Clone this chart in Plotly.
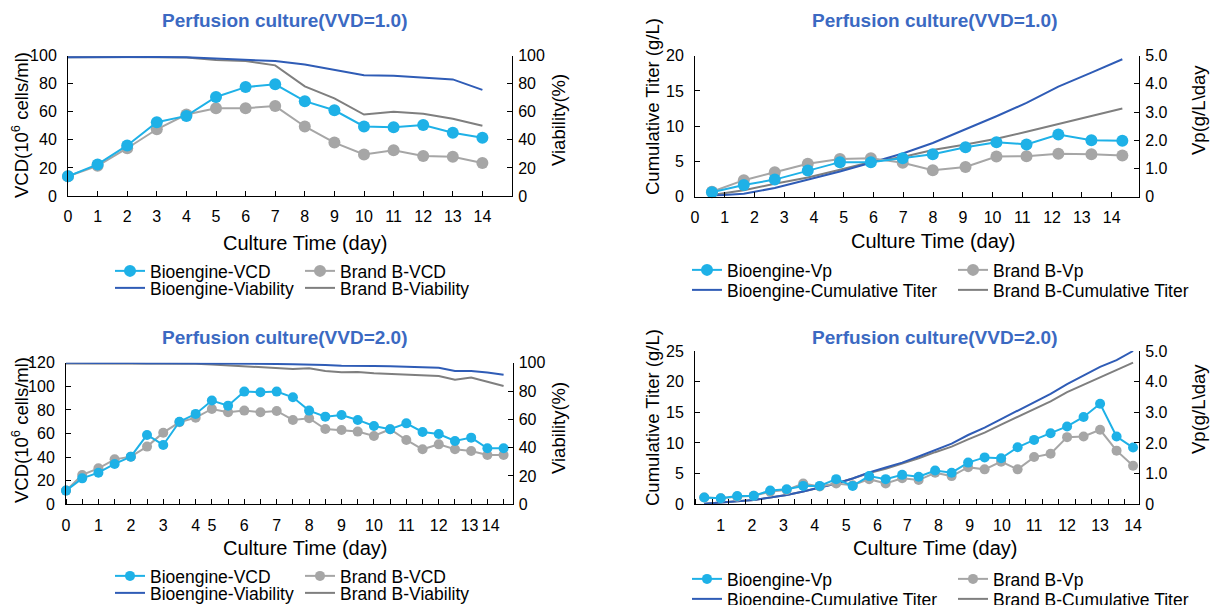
import plotly.graph_objects as go

# ---------------- data ----------------
# Panel 1: Perfusion culture (VVD=1.0) - VCD / viability
days_1 = [0, 1, 2, 3, 4, 5, 6, 7, 8, 9, 10, 11, 12, 13, 14]
bio_vcd_1 = [14, 22.5, 36, 52.5, 57, 70.5, 77.5, 79.5, 67.5, 61, 49.5, 49, 50.5, 45, 41.5]
brb_vcd_1 = [14, 21.5, 34, 47.5, 58, 62.5, 62.5, 64, 49.5, 38, 29.5, 32.5, 28.5, 28, 23.5]
bio_via_1 = [98.8, 99, 99.2, 99, 98.8, 97.9, 97.2, 96, 93.6, 90, 86, 85.5, 84, 83, 75.5]
brb_via_1 = [98.8, 99, 99, 98.8, 98.5, 96.8, 96, 93, 78, 69.5, 58, 60, 58.5, 55, 50]
day_labels_1 = ["0", "1", "2", "3", "4", "5", "6", "7", "8", "9", "10", "11", "12", "13", "14"]

# Panel 2: Perfusion culture (VVD=1.0) - Vp / cumulative titer
days_2 = [0.57, 1.64, 2.68, 3.79, 4.87, 5.91, 6.98, 7.99, 9.09, 10.13, 11.14, 12.21, 13.32, 14.36]
bio_vp_1 = [0.15, 0.41, 0.6, 0.92, 1.22, 1.22, 1.36, 1.5, 1.75, 1.93, 1.85, 2.2, 2.0, 1.98]
brb_vp_1 = [0.17, 0.58, 0.86, 1.16, 1.33, 1.36, 1.2, 0.93, 1.05, 1.42, 1.43, 1.52, 1.5, 1.46]
bio_cum_1 = [0.1, 0.4, 1.2, 2.4, 3.55, 4.8, 6.1, 7.6, 9.5, 11.4, 13.3, 15.6, 17.6, 19.5]
brb_cum_1 = [0.2, 0.9, 1.8, 2.7, 3.8, 4.9, 5.6, 6.6, 7.4, 8.2, 9.2, 10.3, 11.4, 12.5]
day_ticks_2 = [0, 1, 2, 3, 4, 5, 6, 7, 8, 9, 10, 11, 12, 13, 14]

# Panel 3: Perfusion culture (VVD=2.0) - VCD / viability (sample index on category axis)
samples_3 = [0, 1, 2, 3, 4, 5, 6, 7, 8, 9, 10, 11, 12, 13, 14, 15, 16, 17, 18, 19, 20, 21, 22, 23, 24, 25, 26, 27]
day_tick_pos_3 = [0, 2, 4, 6, 8, 9, 11, 13, 15, 17, 19, 21, 23, 24.9, 26.2]
day_labels_3 = ["0", "1", "2", "3", "4", "5", "6", "7", "8", "9", "10", "11", "12", "13", "14"]
bio_vcd_2 = [11.6, 22, 26.8, 34.2, 40.4, 58.8, 50.3, 70, 76.6, 87.9, 83.6, 95.5, 94.9, 95.5,
             90.7, 79.4, 74.3, 75.7, 71.5, 66.4, 63.6, 68.6, 61.3, 59.6, 53.7, 56.5, 47.5, 47.5]
brb_vcd_2 = [11.6, 24.9, 30.5, 38.1, 40.4, 48.9, 60.7, 69.5, 73.4, 80.8, 78, 79.4, 78, 79.1,
             71.5, 72.9, 63.8, 63, 61.6, 57.9, 63.6, 54.5, 46.6, 50.8, 46.6, 45.2, 41.8, 41.8]
bio_via_2 = [100, 99.7, 99.8, 100, 99.6, 99.6, 99.6, 99.6, 99.5, 99.5, 99.3, 99.2, 99.2, 99.1,
             98.9, 98.8, 98.4, 97.9, 97.5, 97.6, 97.5, 97.2, 96.4, 96.5, 94.2, 94.1, 93.0, 91.5]
brb_via_2 = [99.5, 99.5, 99.5, 99.6, 99.5, 99.5, 99.5, 99.5, 99.3, 98.8, 98.1, 97.4, 97.2, 96.0,
             95.5, 96.0, 94.1, 93.2, 93.4, 92.5, 92.0, 91.5, 90.6, 90.6, 88.0, 89.6, 86.5, 83.5]

# Panel 4: Perfusion culture (VVD=2.0) - Vp / cumulative titer (sample index on category axis)
samples_4 = [0, 1, 2, 3, 4, 5, 6, 7, 8, 9, 10, 11, 12, 13, 14, 15, 16, 17, 18, 19, 20, 21, 22, 23, 24, 25, 26]
day_tick_pos_4 = [1, 2.9, 4.8, 6.7, 8.6, 10.5, 12.3, 14.2, 16.1, 18.05, 20, 22, 24, 26]
day_labels_4 = ["1", "2", "3", "4", "5", "6", "7", "8", "9", "10", "11", "12", "13", "14"]
bio_vp_2 = [0.22, 0.2, 0.27, 0.28, 0.45, 0.49, 0.6, 0.6, 0.82, 0.6, 0.92, 0.82, 0.96, 0.9,
            1.1, 1.03, 1.36, 1.53, 1.5, 1.86, 2.1, 2.32, 2.54, 2.85, 3.28, 2.21, 1.85]
brb_vp_2 = [0.22, 0.2, 0.25, 0.28, 0.41, 0.47, 0.68, 0.58, 0.68, 0.62, 0.82, 0.68, 0.85, 0.79,
            1.03, 0.92, 1.21, 1.14, 1.39, 1.14, 1.54, 1.65, 2.19, 2.21, 2.43, 1.75, 1.26]
bio_cum_2 = [0.1, 0.3, 0.4, 0.7, 1.1, 1.5, 2.1, 2.7, 3.4, 4.2, 5.2, 6.0, 6.8, 7.8,
             8.9, 9.9, 11.3, 12.5, 13.9, 15.3, 16.6, 18.0, 19.6, 21.0, 22.4, 23.5, 25.0]
brb_cum_2 = [0.1, 0.3, 0.4, 0.7, 1.1, 1.5, 2.1, 2.7, 3.4, 4.2, 5.1, 5.8, 6.6, 7.5,
             8.5, 9.4, 10.6, 11.7, 13.0, 14.3, 15.5, 16.8, 18.3, 19.5, 20.8, 22.0, 23.1]

vp_tickvals = [0, 1, 2, 3, 4, 5]
vp_ticktext = ["0", "1.0", "2.0", "3.0", "4.0", "5.0"]

# ---------------- style ----------------
FONT = "Liberation Sans, Arial, sans-serif"
C_BIO = "#1eb1e7"
C_BRB = "#a6a6a6"
C_BIO_L = "#2f5cb6"
C_BRB_L = "#7f7f7f"
TITLE_C = "#3b69c2"
W, H = 1210, 605


def px(x):
    return x / W


def py(y):
    return 1 - y / H


fig = go.Figure()


def add_pair(x, y_bio, y_brb, name_bio, name_brb, xa, ya, legend, with_markers, msize):
    if with_markers:
        common = dict(mode="lines+markers", cliponaxis=False)
        fig.add_trace(go.Scatter(x=x, y=y_brb, name=name_brb, legendrank=2,
                                 line=dict(color=C_BRB, width=2),
                                 marker=dict(size=msize, color=C_BRB),
                                 xaxis=xa, yaxis=ya, legend=legend, **common))
        fig.add_trace(go.Scatter(x=x, y=y_bio, name=name_bio, legendrank=1,
                                 line=dict(color=C_BIO, width=2),
                                 marker=dict(size=msize, color=C_BIO),
                                 xaxis=xa, yaxis=ya, legend=legend, **common))
    else:
        fig.add_trace(go.Scatter(x=x, y=y_brb, name=name_brb, legendrank=2, mode="lines",
                                 line=dict(color=C_BRB_L, width=2),
                                 xaxis=xa, yaxis=ya, legend=legend, cliponaxis=False))
        fig.add_trace(go.Scatter(x=x, y=y_bio, name=name_bio, legendrank=1, mode="lines",
                                 line=dict(color=C_BIO_L, width=2),
                                 xaxis=xa, yaxis=ya, legend=legend, cliponaxis=False))


# Panel 1
add_pair(days_1, bio_vcd_1, brb_vcd_1, "Bioengine-VCD", "Brand B-VCD", "x", "y", "legend", True, 12)
add_pair(days_1, bio_via_1, brb_via_1, "Bioengine-Viability", "Brand B-Viability", "x", "y2", "legend2", False, 0)
# Panel 2
add_pair(days_2, bio_cum_1, brb_cum_1, "Bioengine-Cumulative Titer", "Brand B-Cumulative Titer", "x2", "y3", "legend4", False, 0)
add_pair(days_2, bio_vp_1, brb_vp_1, "Bioengine-Vp", "Brand B-Vp", "x2", "y4", "legend3", True, 12)
# Panel 3
add_pair(samples_3, bio_vcd_2, brb_vcd_2, "Bioengine-VCD", "Brand B-VCD", "x3", "y5", "legend5", True, 10)
add_pair(samples_3, bio_via_2, brb_via_2, "Bioengine-Viability", "Brand B-Viability", "x3", "y6", "legend6", False, 0)
# Panel 4
add_pair(samples_4, bio_cum_2, brb_cum_2, "Bioengine-Cumulative Titer", "Brand B-Cumulative Titer", "x4", "y7", "legend8", False, 0)
add_pair(samples_4, bio_vp_2, brb_vp_2, "Bioengine-Vp", "Brand B-Vp", "x4", "y8", "legend7", True, 10)

TICKFONT = dict(family=FONT, size=16, color="black")
axis_common = dict(showline=True, linecolor="black", linewidth=1, showgrid=False,
                   zeroline=False, ticks="inside", ticklen=5, tickcolor="black",
                   tickfont=TICKFONT, automargin=False)


def xaxis(domain, anchor, rng, **kw):
    d = dict(axis_common)
    d.update(domain=domain, anchor=anchor, range=rng, ticklabelstandoff=6, tickangle=0)
    d.update(kw)
    return d


def yaxis(domain, anchor, rng, side="left", overlaying=None, **kw):
    d = dict(axis_common)
    d.update(domain=domain, anchor=anchor, range=rng, side=side,
             ticklabelstandoff=7 if side == "left" else 2)
    if overlaying:
        d["overlaying"] = overlaying
    d.update(kw)
    return d


# panel geometry (pixels)
p1x = [px(68), px(512)]
p1y = [py(196), py(55.5)]
p2x = [px(695), px(1139)]
p2y = [py(196.5), py(55.7)]
p3x = [px(66), px(512.5)]
p3y = [py(504.3), py(362.7)]
p4x = [px(695), px(1139)]
p4y = [py(504.3), py(351)]

minor_every = dict(ticks="inside", ticklen=5, tickcolor="black", tickmode="linear",
                   tick0=0, dtick=1, showgrid=False)
minor_between = dict(ticks="inside", ticklen=5, tickcolor="black", tickmode="linear",
                     tick0=-0.5, dtick=1, showgrid=False)

fig.update_layout(
    width=W, height=H,
    margin=dict(l=0, r=0, t=0, b=0, autoexpand=False),
    paper_bgcolor="white", plot_bgcolor="white",
    font=dict(family=FONT, size=16, color="black"),
    showlegend=True,
    xaxis=xaxis(p1x, "y", [0, 15], tickmode="array", tickvals=days_1, ticktext=day_labels_1),
    yaxis=yaxis(p1y, "x", [0, 100], dtick=20),
    yaxis2=yaxis(p1y, "x", [0, 100], side="right", overlaying="y", dtick=20),
    xaxis2=xaxis(p2x, "y3", [0, 14.92], tickmode="array", tickvals=day_ticks_2,
                 ticktext=day_labels_1),
    yaxis3=yaxis(p2y, "x2", [0, 20], dtick=5),
    yaxis4=yaxis(p2y, "x2", [0, 5], side="right", overlaying="y3",
                 tickmode="array", tickvals=vp_tickvals, ticktext=vp_ticktext),
    xaxis3=xaxis(p3x, "y5", [0, 27.55], tickmode="array", tickvals=day_tick_pos_3,
                 ticktext=day_labels_3, ticks="", minor=minor_every),
    yaxis5=yaxis(p3y, "x3", [0, 120], dtick=20),
    yaxis6=yaxis(p3y, "x3", [0, 100], side="right", overlaying="y5", dtick=20),
    xaxis4=xaxis(p4x, "y7", [-0.56, 26.36], tickmode="array", tickvals=day_tick_pos_4,
                 ticktext=day_labels_4, ticks="", minor=minor_between),
    yaxis7=yaxis(p4y, "x4", [0, 25], dtick=5),
    yaxis8=yaxis(p4y, "x4", [0, 5], side="right", overlaying="y7",
                 tickmode="array", tickvals=vp_tickvals, ticktext=vp_ticktext),
)


# legends: one per row
def leg(x, y, ew):
    return dict(x=px(x), y=py(y), xanchor="left", yanchor="middle", orientation="h",
                entrywidth=ew, entrywidthmode="pixels", itemwidth=30,
                font=dict(family=FONT, size=17.5, color="black"),
                bgcolor="rgba(0,0,0,0)", borderwidth=0, tracegroupgap=0,
                traceorder="normal", itemclick=False, itemdoubleclick=False)


fig.update_layout(
    legend=leg(110, 271, 145),
    legend2=leg(110, 288, 145),
    legend3=leg(687, 270, 221),
    legend4=leg(687, 290, 221),
    legend5=leg(110, 576, 145),
    legend6=leg(110, 593, 145),
    legend7=leg(687, 579, 221),
    legend8=leg(687, 599, 221),
)

annotations = []


def text(x, y, s, size=18.5, bold=False, color="black", angle=0):
    annotations.append(dict(
        x=px(x), y=py(y), xref="paper", yref="paper", showarrow=False,
        text=f"<b>{s}</b>" if bold else s, textangle=angle,
        xanchor="center", yanchor="middle",
        font=dict(family=FONT, size=size, color=color)))


# titles
text(284, 20, "Perfusion culture(VVD=1.0)", size=19, bold=True, color=TITLE_C)
text(934, 20, "Perfusion culture(VVD=1.0)", size=19, bold=True, color=TITLE_C)
text(284, 337, "Perfusion culture(VVD=2.0)", size=19, bold=True, color=TITLE_C)
text(934, 337, "Perfusion culture(VVD=2.0)", size=19, bold=True, color=TITLE_C)
# x titles
text(305, 243, "Culture Time (day)", size=20)
text(933, 241, "Culture Time (day)", size=20)
text(305, 548, "Culture Time (day)", size=20)
text(935, 548, "Culture Time (day)", size=20)
# y titles
text(20, 125, "VCD(10<sup>6</sup> cells/ml)", angle=-90)
text(558, 120, "Viability(%)", angle=-90)
text(652, 107, "Cumulative Titer (g/L)", angle=-90)
text(1198, 110, "Vp(g/L\\day", angle=-90)
text(20, 430, "VCD(10<sup>6</sup> cells/ml)", angle=-90)
text(558, 428, "Viability(%)", angle=-90)
text(652, 418, "Cumulative Titer (g/L)", angle=-90)
text(1198, 409, "Vp(g/L\\day", angle=-90)

fig.update_layout(annotations=annotations)

fig.write_html("out.html", config={"responsive": False, "displayModeBar": False},
               post_script="document.body.style.margin='0';document.body.style.padding='0';")
